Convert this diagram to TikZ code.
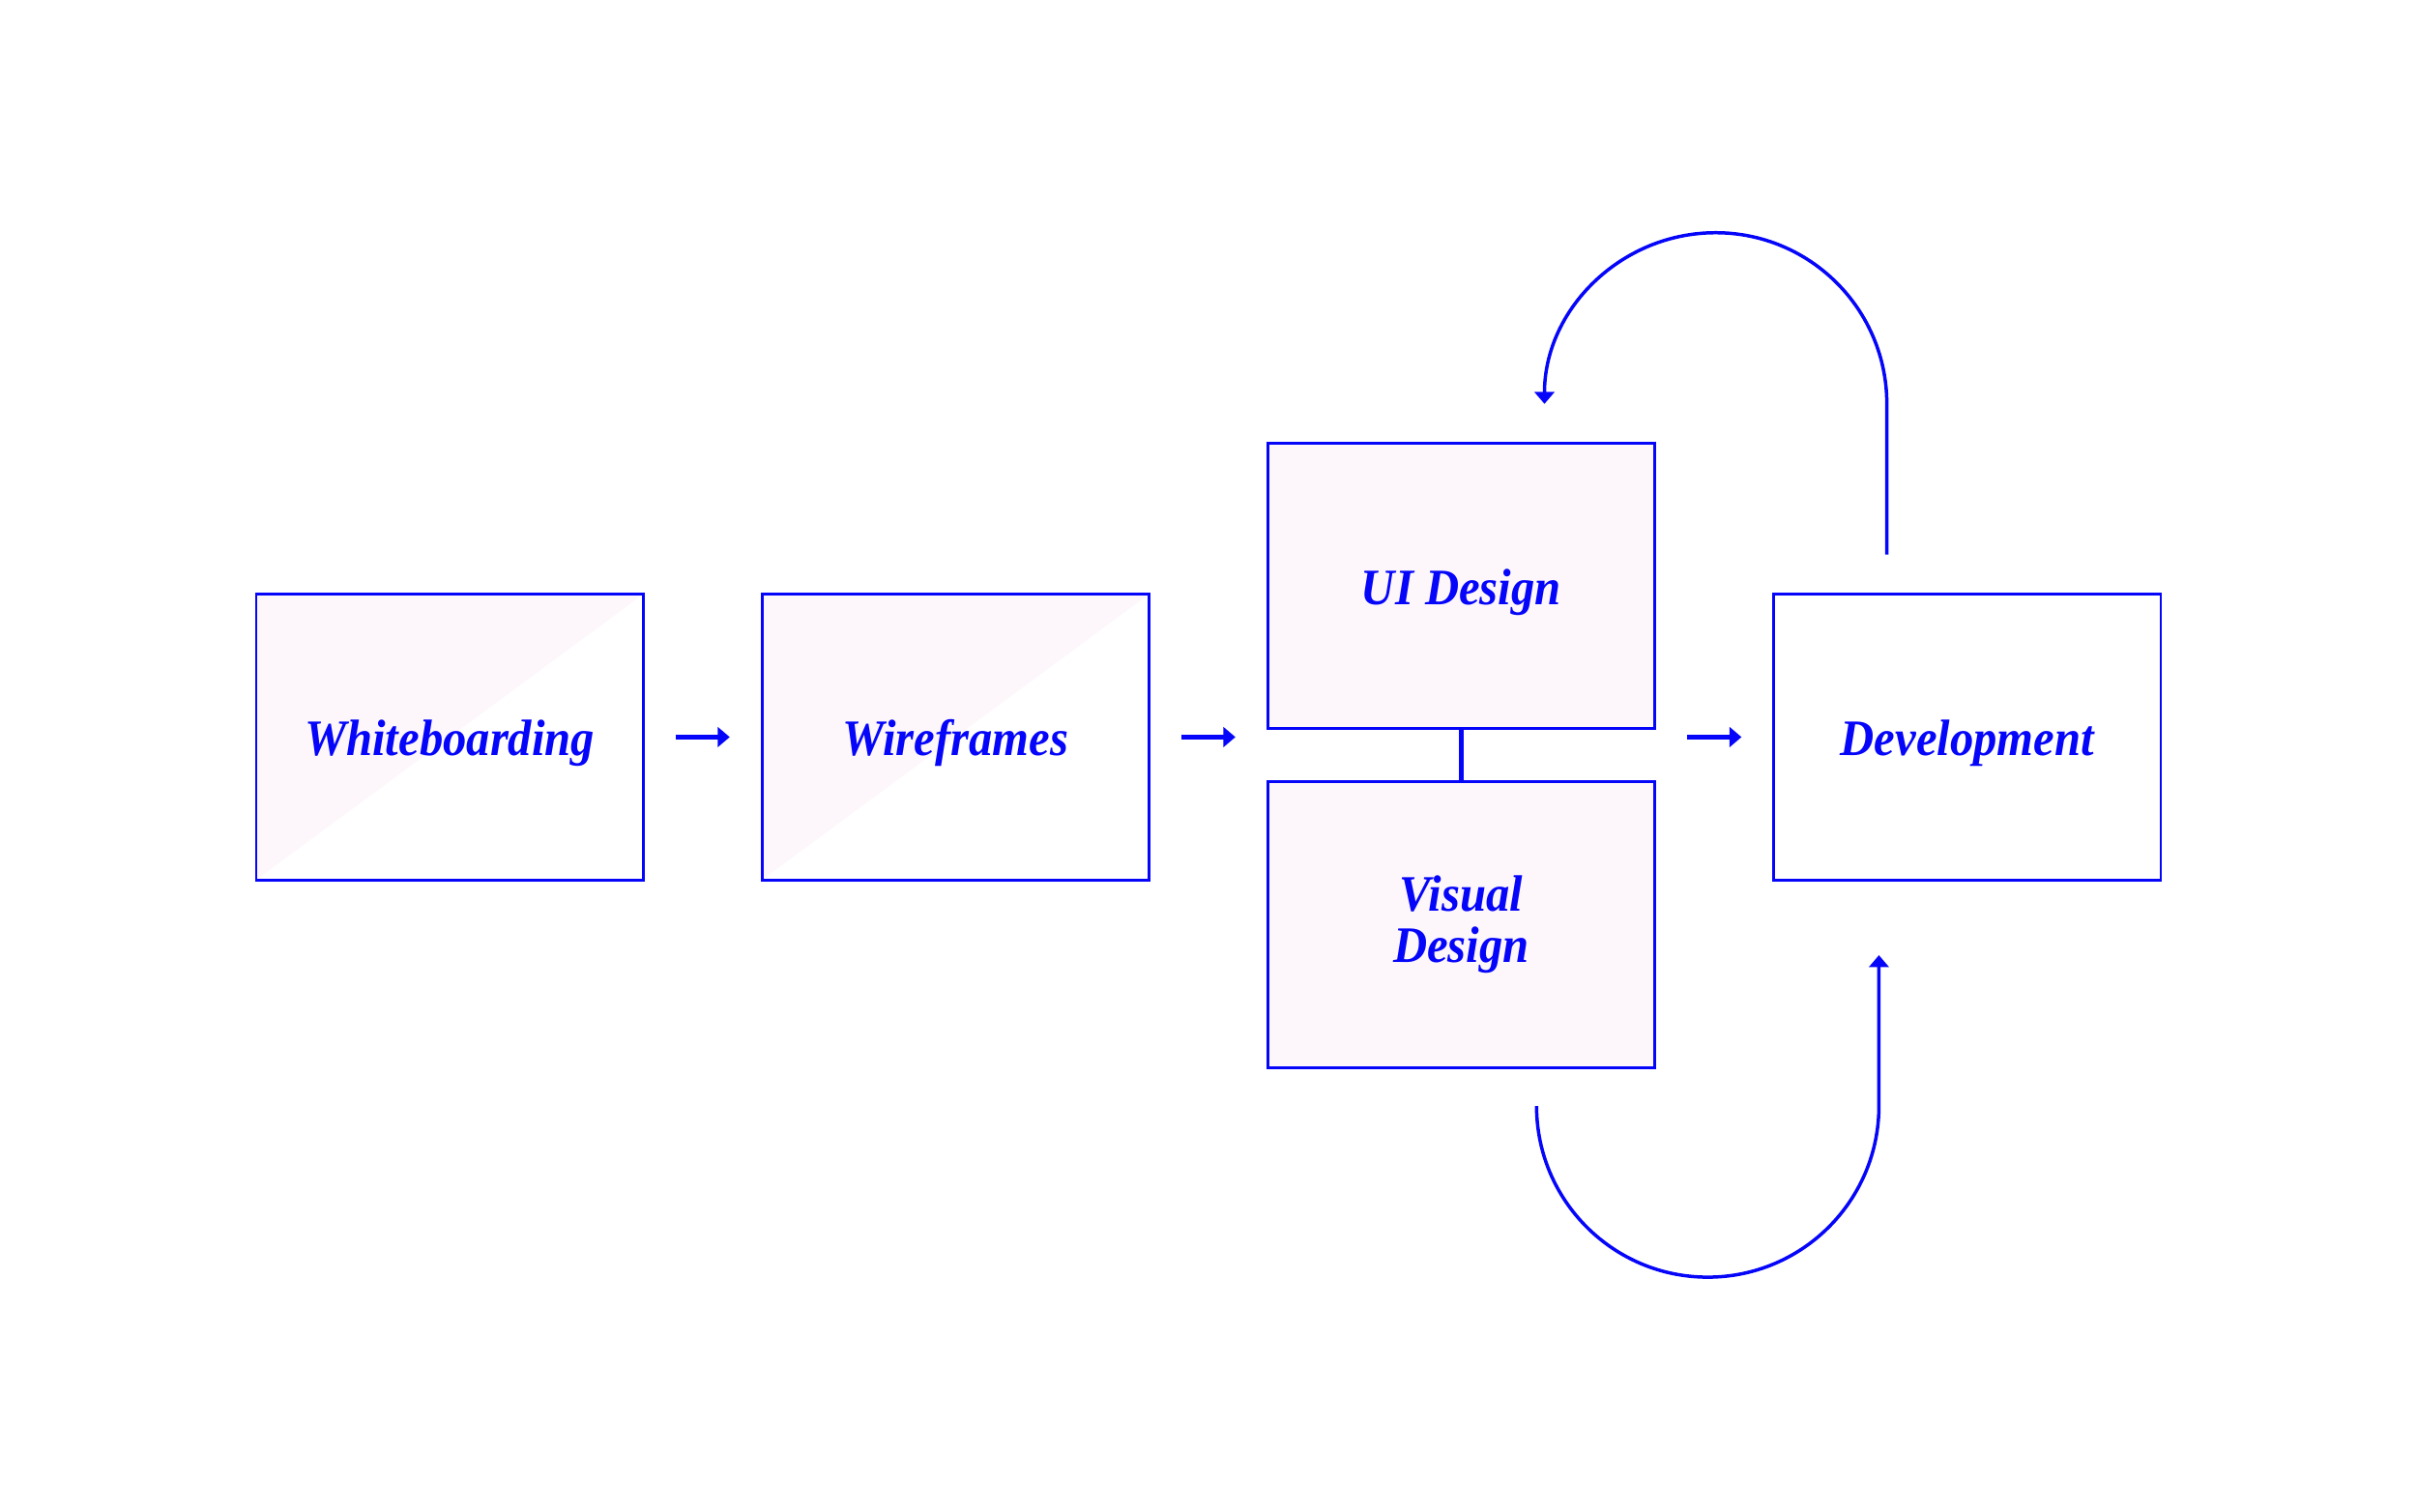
\documentclass[tikz,border=0pt]{standalone}
\usepackage{fontspec}
\setmainfont{Liberation Serif}[FakeStretch=0.92]
\usetikzlibrary{arrows.meta,calc}
\definecolor{ink}{RGB}{5,5,250}
\definecolor{blush}{RGB}{253,247,251}

\begin{document}
\begin{tikzpicture}[>={Triangle[length=2.2pt,width=3.6pt]},x=0.01cm,y=-0.01cm,
  box/.style={draw=ink,line width=0.5pt,minimum width=2.5cm,minimum height=1.845cm,inner sep=0pt,
    text=ink,align=center,font=\fontsize{9.4}{9.4}\selectfont\bfseries\itshape},
  word/.style={text height=9pt,text depth=2.2pt},
  half/.style={path picture={\fill[blush] (path picture bounding box.south west)
    -- (path picture bounding box.north west) -- (path picture bounding box.north east) -- cycle;}},
  flow/.style={->,draw=ink,line width=0.85pt,shorten <=0.2cm,shorten >=0.2cm},
  back/.style={->,draw=ink,line width=0.62pt}]

\useasboundingbox (0,0) rectangle (1562.5,976.9);

\node[box,word,half] (wb) at (290.7,476.5) {Whiteboarding};
\node[box,word,half] (wf) at (617.7,476.5) {Wireframes};
\node[box,word,fill=blush] (ui) at (944.6,378.8) {UI Design};
\node[box,fill=blush] (vis) at (944.6,597.8) {Visual\\Design};
\node[box,word] (dev) at (1271.8,476.5) {Development};

\coordinate (devtop) at ([xshift=-0.52cm,yshift=0.248cm]dev.north);
\coordinate (visbot) at ([xshift=0.487cm,yshift=-0.24cm]vis.south);

\draw[flow] (wb) -- (wf);
\draw[flow] (wf.east |- wb.east) -- (ui.south west |- wf.west);
\draw[flow] (ui.south east |- dev.west) -- (dev.west);
\draw[draw=ink,line width=0.85pt] (ui) -- (vis);

% feedback loops
\draw[back] (devtop) -- ++(0,-97.4) arc[start angle=0,end angle=180,radius=1.106cm];
\draw[back] (visbot) arc[start angle=180,end angle=360,radius=1.106cm] -- ++(0,-97.5);

\end{tikzpicture}
\end{document}
